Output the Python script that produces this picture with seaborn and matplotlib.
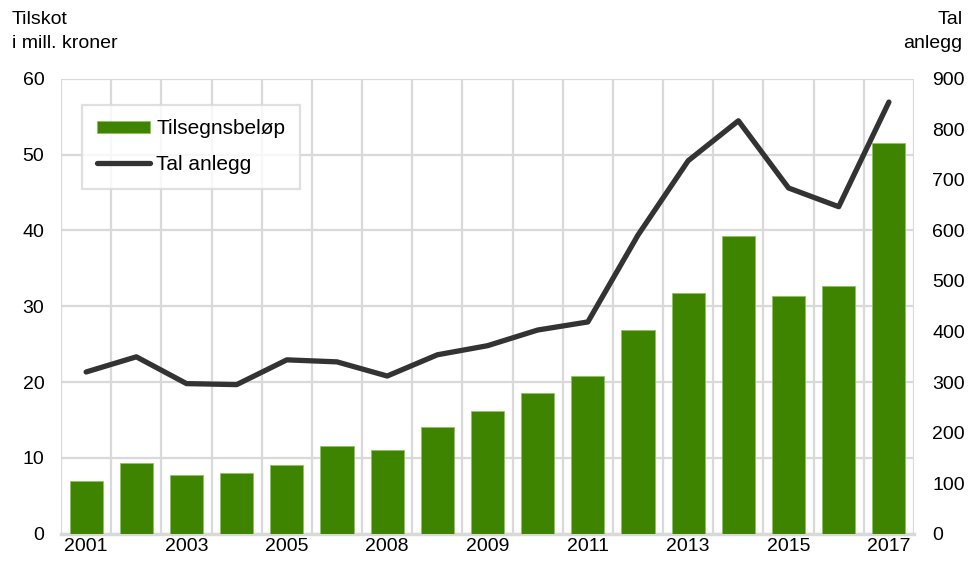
import numpy as np
import pandas as pd
import matplotlib
matplotlib.use("Agg")
import matplotlib.pyplot as plt
import seaborn as sns

# data
years = list(range(2001, 2018))
tilsegn = [6.9, 9.3, 7.7, 8.0, 9.0, 11.6, 11.1, 14.1, 16.2, 18.5, 20.8,
           26.9, 31.8, 39.3, 31.4, 32.7, 51.6]
anlegg = [320, 350, 297, 295, 344, 340, 312, 354, 372, 403, 419,
          591, 738, 817, 684, 647, 854]
tick_pos = [0, 2, 4, 6, 8, 10, 12, 14, 16]
tick_labels = ["2001", "2003", "2005", "2008", "2009", "2011", "2013", "2015", "2017"]

df = pd.DataFrame({"year": years, "tilsegn": tilsegn, "anlegg": anlegg})
df["pos"] = np.arange(len(df))

sns.set_theme(style="white")
plt.rcParams["font.family"] = ["Liberation Sans", "DejaVu Sans"]
plt.rcParams["text.color"] = "black"

fs = 14
grid_col = "#d9d9d9"
fig, ax = plt.subplots(figsize=(9.77, 5.63), dpi=100)
fig.subplots_adjust(left=0.0625, right=0.9355, top=0.86, bottom=0.052)

sns.barplot(data=df, x="pos", y="tilsegn", color="#3f8400", saturation=1,
            width=0.66, edgecolor="#8fc060", linewidth=0.6, ax=ax, zorder=3,
            label="Tilsegnsbeløp")
if ax.get_legend() is not None:
    ax.get_legend().remove()

ax2 = ax.twinx()
sns.lineplot(data=df, x="pos", y="anlegg", color="#333333", linewidth=3.8,
             ax=ax2, label="Tal anlegg", legend=False)

ax.set_xlim(-0.5, 16.5)
ax.set_ylim(0, 60)
ax2.set_ylim(0, 900)
ax.set_yticks(range(0, 61, 10))
ax2.set_yticks(range(0, 901, 100))
ax.set_xticks(tick_pos)
ax.set_xticklabels(tick_labels)
ax.set_xticks(np.arange(-0.5, 17, 1), minor=True)
ax.grid(axis="y", which="major", color=grid_col, linewidth=1.6, zorder=0)
ax.grid(axis="x", which="minor", color=grid_col, linewidth=1.6, zorder=0)
ax.set_axisbelow(True)
ax.set_xlabel("")
ax.set_ylabel("")
ax2.set_xlabel("")
ax2.set_ylabel("")

for a in (ax, ax2):
    for s in a.spines.values():
        s.set_visible(False)
    a.tick_params(axis="both", which="both", length=0, labelsize=fs, colors="black")
ax.spines["bottom"].set_visible(True)
ax.spines["bottom"].set_color(grid_col)
ax.spines["bottom"].set_linewidth(2.5)
ax.tick_params(axis="x", pad=3)
ax.tick_params(axis="y", pad=12)
ax2.tick_params(axis="y", pad=13)

fig.text(0.012, 0.98, "Tilskot\ni mill. kroner", ha="left", va="top", fontsize=fs,
         linespacing=1.5, color="black")
fig.text(0.985, 0.98, "Tal\nanlegg", ha="right", va="top", fontsize=fs,
         linespacing=1.5, multialignment="right", color="black")

h1, l1 = ax.get_legend_handles_labels()
h2, l2 = ax2.get_legend_handles_labels()
leg = ax2.legend(h1 + h2, l1 + l2, loc="upper left", bbox_to_anchor=(0.0246, 0.943),
                 frameon=True, fancybox=False, edgecolor=grid_col, fontsize=15,
                 handlelength=2.55, handleheight=0.5, borderpad=0.7, labelspacing=0.8,
                 handletextpad=0.3, borderaxespad=0.0)
leg.get_frame().set_linewidth(1.6)
for t in leg.get_texts():
    t.set_color("black")

fig.savefig("out.png", dpi=100)
